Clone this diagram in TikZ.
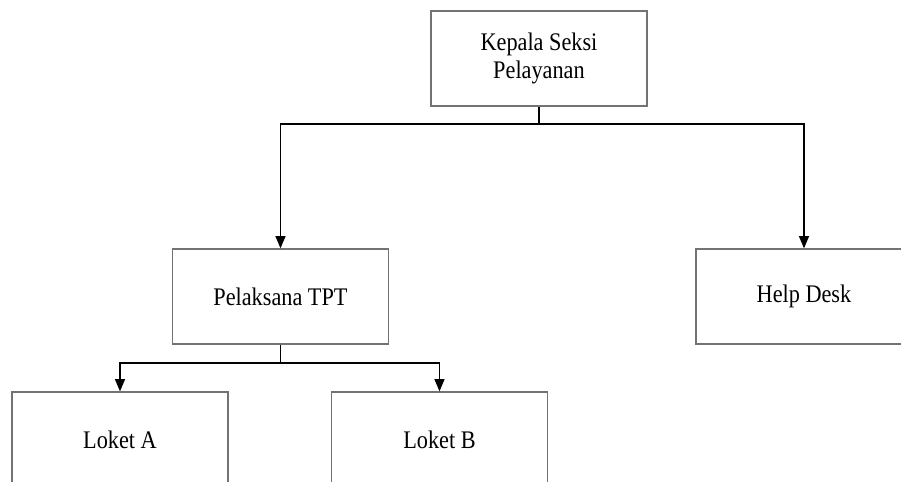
\documentclass[tikz,border=0pt]{standalone}
\usepackage{fontspec}
\setmainfont{Liberation Serif}[FakeStretch=0.88]
\usepackage{tikz}
\usetikzlibrary{calc,positioning,arrows}

\begin{document}
\begin{tikzpicture}[node distance=1cm,auto,>=triangle 45,
  box/.style={draw=black!55, line width=1pt, minimum width=5.4cm, minimum height=2.375cm,
    align=center, font=\fontsize{18}{19.9}\selectfont},
  link/.style={line width=1pt}]
  \clip (-13.475,1.4625) rectangle (9.05,-10.5875);

  \node[box] (kepala) {Kepala Seksi\\Pelayanan};
  \node[box, below of=kepala, node distance=5.95cm, xshift=-6.4625cm] (pelaksana) {Pelaksana TPT};
  \node[box, below of=kepala, node distance=5.95cm, xshift=6.625cm] (helpdesk) {Help Desk};

  \node[box, below of=pelaksana, node distance=3.575cm, xshift=-4.0125cm] (loket_a) {Loket A};
  \node[box, below of=pelaksana, node distance=3.575cm, xshift=3.975cm] (loket_b) {Loket B};

  %%%%

  \coordinate[below of=kepala, node distance=1.6375cm] (kepala_split);
  \draw[link, ->] (kepala.south) -- (kepala_split) -| (pelaksana.north);
  \draw[link, ->] (kepala_split) -| (helpdesk.north);

  \coordinate[below of=pelaksana, node distance=1.6625cm] (pelaksana_split);
  \draw[link, ->] (pelaksana.south) -- (pelaksana_split) -| (loket_a.north);
  \draw[link, ->] (pelaksana_split) -| (loket_b.north);

\end{tikzpicture}
\end{document}
